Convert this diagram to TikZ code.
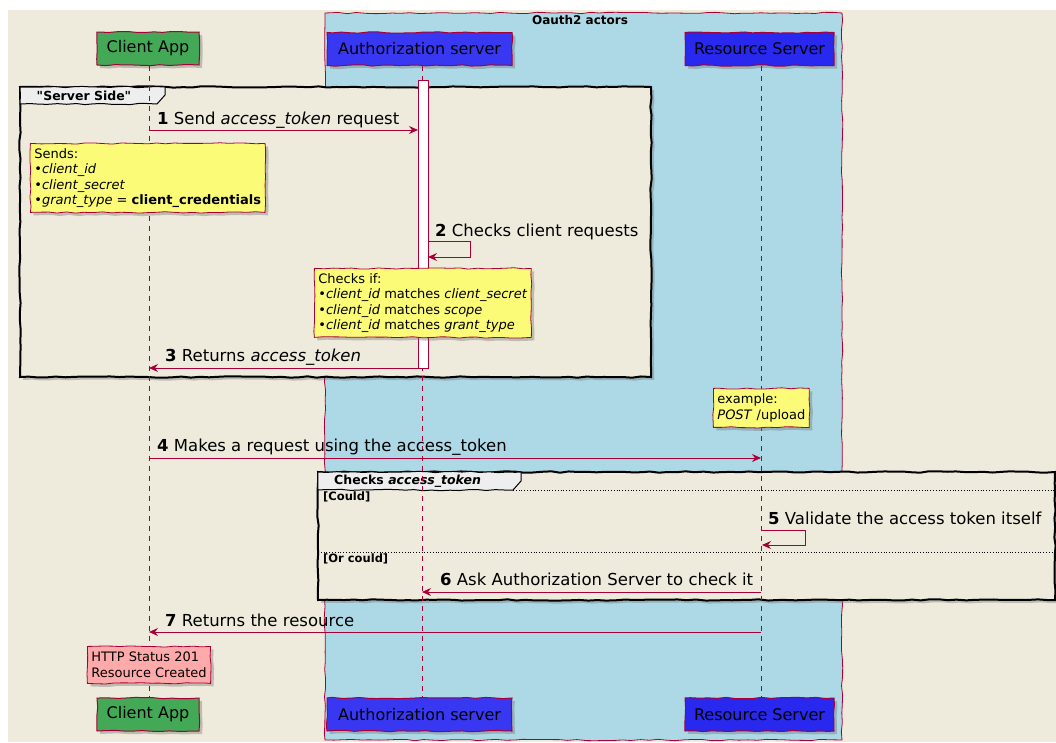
\documentclass[tikz,border=0pt]{standalone}
\usepackage{fontspec}
\setmainfont{DejaVu Sans}[Ligatures=TeXOff]
\usetikzlibrary{arrows.meta,shadows,decorations.pathmorphing}
\definecolor{bgbeige}{HTML}{EEEBDC}
\definecolor{lblue}{HTML}{ADD8E6}
\definecolor{crim}{HTML}{A80036}
\definecolor{cgreen}{HTML}{43A956}
\definecolor{cblue}{HTML}{3838F2}
\definecolor{rblue}{HTML}{2828EE}
\definecolor{noteyel}{HTML}{FBFB77}
\definecolor{notepink}{HTML}{FFAAAA}
\definecolor{tabgray}{HTML}{EEEEEE}
\pgfmathsetseed{11}
\tikzset{
  sketchy/.style={decorate,decoration={random steps,segment length=9pt,amplitude=0.7pt}},
  shade/.style={drop shadow={shadow xshift=3pt,shadow yshift=-3pt,opacity=0.35,fill=black!60}},
  actor/.style={draw=crim,line width=1pt,minimum height=33pt,inner sep=0pt,
    font=\fontsize{16}{19}\selectfont,shade,sketchy},
  life/.style={draw=crim,line width=0.8pt,dash pattern=on 5pt off 5pt},
  msg/.style={draw=crim,line width=1pt,-{Stealth[length=9pt,width=8pt,inset=3pt]}},
  mlab/.style={anchor=base west,inner sep=0pt,font=\fontsize{16.5}{19}\selectfont},
  note/.style={draw=crim,line width=0.8pt,fill=noteyel,anchor=north west,align=left,
    inner xsep=4pt,inner ysep=4pt,font=\fontsize{13}{15.5}\selectfont,shade,sketchy},
  grp/.style={draw=black,line width=2pt,fill=bgbeige,shade,sketchy},
  gtab/.style={draw=black,line width=1pt,fill=tabgray,sketchy},
  glab/.style={font=\bfseries\fontsize{12.5}{14}\selectfont,inner sep=0pt},
  altlab/.style={font=\bfseries\fontsize{11.5}{13}\selectfont,inner sep=0pt,anchor=north west},
  sep/.style={draw=black,line width=0.8pt,dotted},
}
\begin{document}
\begin{tikzpicture}[x=1pt,y=-1pt]
\useasboundingbox (0,0) rectangle (1056,742);
% canvas
\fill[bgbeige] (8,10) rectangle (1056,742);
% participant box
\draw[draw=crim,fill=lblue,line width=0.8pt,sketchy] (325,13) rectangle (842,740);
\node[glab,font=\bfseries\fontsize{12}{14}\selectfont] (boxtitle) at (580,20.5) {Oauth2 actors};

% groups
\draw[grp] (20,87) rectangle (651,377);
\draw[gtab] (20,87) -- (165,87) -- (165,95) -- (157,104) -- (20,104) -- cycle;
\node[glab] (g1lab) at (84,95.5) {"Server Side"};

\draw[grp] (318,472) rectangle (1055,600);
\draw[gtab] (318,472) -- (521,472) -- (521,481) -- (513,490) -- (318,490) -- cycle;
\node[glab,anchor=west] (g2lab) at (334,481) {Checks \textit{access\_token}};
\draw[sep] (513,490) -- (1055,490);
\node[altlab] (could) at (323,492) {[Could]};
\draw[sep] (318,552) -- (1055,552);
\node[altlab] (orcould) at (323,554) {[Or could]};

% participants
\node[actor,fill=cgreen,minimum width=102pt] (cTop) at (148,48.5) {Client App};
\node[actor,fill=cblue,minimum width=185pt] (aTop) at (419.5,49) {Authorization server};
\node[actor,fill=rblue,minimum width=149pt] (rTop) at (759.5,49) {Resource Server};
\node[actor,fill=cgreen,minimum width=102pt] (cBot) at (148,714.5) {Client App};
\node[actor,fill=cblue,minimum width=185pt] (aBot) at (419.5,714.5) {Authorization server};
\node[actor,fill=rblue,minimum width=149pt] (rBot) at (759.5,714.5) {Resource Server};

% lifelines
\draw[life] (cTop.south -| 149,0) -- (cBot.north -| 149,0);
\draw[life] (aTop.south -| 422,0) -- (aBot.north -| 422,0);
\draw[life] (rTop.south -| 761,0) -- (rBot.north -| 761,0);

% activation
\node[draw=crim,fill=white,line width=0.8pt,minimum width=10pt,minimum height=288pt,inner sep=0pt,anchor=north] (act) at (423,80) {};

% 1
\coordinate (m1s) at (149,130);
\coordinate (m1e) at (418,130);
\draw[msg] (m1s) -- (m1e);
\node[mlab] (l1) at (157,124) {\textbf{1} Send \textit{access\_token} request};

\node[note,minimum height=69pt] (n1) at (30,143) {Sends:\\
•\textit{client\_id}\\
•\textit{client\_secret}\\
•\textit{grant\_type} = \textbf{client\_credentials}};

% 2
\coordinate (m2s) at (428,241);
\coordinate (m2e) at (428,257);
\draw[msg] (m2s) -- (470,241) -- (470,257) -- (m2e);
\node[mlab] (l2) at (435,236) {\textbf{2} Checks client requests};

\node[note,minimum height=69pt] (n2) at (314,268) {Checks if:\\
•\textit{client\_id} matches \textit{client\_secret}\\
•\textit{client\_id} matches \textit{scope}\\
•\textit{client\_id} matches \textit{grant\_type}};

% 3
\coordinate (m3s) at (418,368);
\coordinate (m3e) at (149,368);
\draw[msg] (m3s) -- (m3e);
\node[mlab] (l3) at (165,361) {\textbf{3} Returns \textit{access\_token}};

\node[note,minimum height=39pt] (n3) at (713,388) {example:\\
\textit{POST} /upload};

% 4
\coordinate (m4s) at (149,458);
\coordinate (m4e) at (761,458);
\draw[msg] (m4s) -- (m4e);
\node[mlab] (l4) at (157,451) {\textbf{4} Makes a request using the access\_token};

% 5
\coordinate (m5s) at (762,530);
\coordinate (m5e) at (762,545);
\draw[msg] (m5s) -- (805,530) -- (805,545) -- (m5e);
\node[mlab] (l5) at (768,524) {\textbf{5} Validate the access token itself};

% 6
\coordinate (m6s) at (761,592);
\coordinate (m6e) at (422,592);
\draw[msg] (m6s) -- (m6e);
\node[mlab] (l6) at (440,585) {\textbf{6} Ask Authorization Server to check it};

% 7
\coordinate (m7s) at (761,632);
\coordinate (m7e) at (149,632);
\draw[msg] (m7s) -- (m7e);
\node[mlab] (l7) at (165,626) {\textbf{7} Returns the resource};

\node[note,fill=notepink,minimum height=37pt] (n4) at (87,646) {HTTP Status 201\\
Resource Created};
\end{tikzpicture}
\end{document}
